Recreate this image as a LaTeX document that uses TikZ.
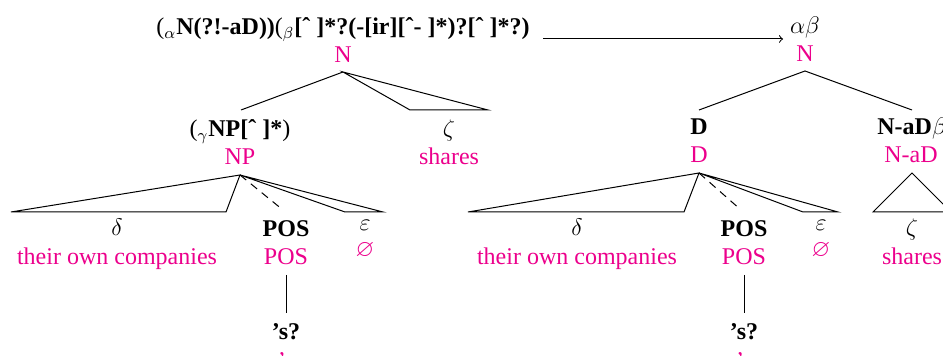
\documentclass[tikz,border=0pt]{standalone}
\usepackage{amssymb}
\usepackage{fontspec}
\setmainfont{Liberation Serif}
\definecolor{mag}{RGB}{236,0,140}
\begin{document}
\begin{tikzpicture}[x=0.5pt,y=-0.5pt,
  every node/.style={inner sep=0pt, anchor=base, font=\fontsize{12}{14}\selectfont},
  lbl/.style={text=black},
  cat/.style={text=mag},
  ln/.style={line width=0.5pt},
  dl/.style={line width=0.5pt, dash pattern=on 4pt off 3pt}]
\useasboundingbox (0,0) rectangle (943,356);
% ---------- left tree ----------
\node[lbl] (top) at (343,35) {($_\alpha$\textbf{N(?!-aD))}($_\beta$\textbf{[ˆ ]*?(-[ir][ˆ- ]*)?[ˆ ]*?)}};
\node[cat] (topc) at (343,63) {N};
\coordinate (n1) at (343,72);
\coordinate (l1) at (241,110);
\coordinate (z1a) at (410,110);
\coordinate (z1b) at (488,110);
\draw[ln] (n1) -- (l1);
\draw[ln] (n1) -- (z1a) -- (z1b) -- cycle;
\node[lbl] (np) at (240,137) {($_\gamma$\textbf{NP[ˆ ]*})};
\node[cat] (npc) at (240,165) {NP};
\node[lbl] (zeta1) at (449,137) {$\zeta$};
\node[cat] (sh1) at (449,165) {shares};
\coordinate (n2) at (240,175);
\coordinate (d1a) at (11,212);
\coordinate (d1b) at (226,212);
\coordinate (p1) at (283,210);
\coordinate (e1a) at (345,212);
\coordinate (e1b) at (383,212);
\draw[ln] (n2) -- (d1a) -- (d1b) -- cycle;
\draw[dl] (n2) -- (p1);
\draw[ln] (n2) -- (e1a) -- (e1b) -- cycle;
\node[lbl] (dl1) at (117,236) {$\delta$};
\node[cat] (toc1) at (117,265) {their own companies};
\node[lbl] (pos1) at (286,237) {\textbf{POS}};
\node[cat] (posc1) at (286,265) {POS};
\node[lbl] (eps1) at (365,231) {$\varepsilon$};
\node[cat] (emp1) at (365,257) {$\varnothing$};
\draw[ln] (286,275) -- (286,313);
\node[lbl] (s1) at (286,340) {\textbf{'s?}};
\node[cat] (s1c) at (286,369) {'s};
% ---------- arrow ----------
\coordinate (ar1) at (543,39);
\coordinate (ar2) at (783,39);
\draw[ln,->] (ar1) -- (ar2);
% ---------- right tree ----------
\node[lbl] (ab) at (805,34) {$\alpha\beta$};
\node[cat] (abc) at (805,62) {N};
\coordinate (n3) at (805,71);
\coordinate (dd) at (699,110);
\coordinate (na) at (912,110);
\draw[ln] (dd) -- (n3) -- (na);
\node[lbl] (D) at (699,135) {\textbf{D}};
\node[cat] (Dc) at (699,163) {D};
\node[lbl] (NaD) at (912,135) {\textbf{N-aD}$\beta$};
\node[cat] (NaDc) at (911,163) {N-aD};
\coordinate (n4) at (912,173);
\coordinate (z2a) at (873,212);
\coordinate (z2b) at (951,212);
\draw[ln] (n4) -- (z2a) -- (z2b) -- cycle;
\node[lbl] (zeta2) at (912,236) {$\zeta$};
\node[cat] (sh2) at (912,265) {shares};
\coordinate (n5) at (699,173);
\coordinate (d2a) at (468,212);
\coordinate (d2b) at (684,212);
\coordinate (p2) at (741,210);
\coordinate (e2a) at (803,212);
\coordinate (e2b) at (838,212);
\draw[ln] (n5) -- (d2a) -- (d2b) -- cycle;
\draw[dl] (n5) -- (p2);
\draw[ln] (n5) -- (e2a) -- (e2b) -- cycle;
\node[lbl] (dl2) at (577,236) {$\delta$};
\node[cat] (toc2) at (577,265) {their own companies};
\node[lbl] (pos2) at (744,237) {\textbf{POS}};
\node[cat] (posc2) at (744,265) {POS};
\node[lbl] (eps2) at (821,231) {$\varepsilon$};
\node[cat] (emp2) at (821,257) {$\varnothing$};
\draw[ln] (744,275) -- (744,313);
\node[lbl] (s2) at (744,340) {\textbf{'s?}};
\node[cat] (s2c) at (744,369) {'s};
\end{tikzpicture}
\end{document}
